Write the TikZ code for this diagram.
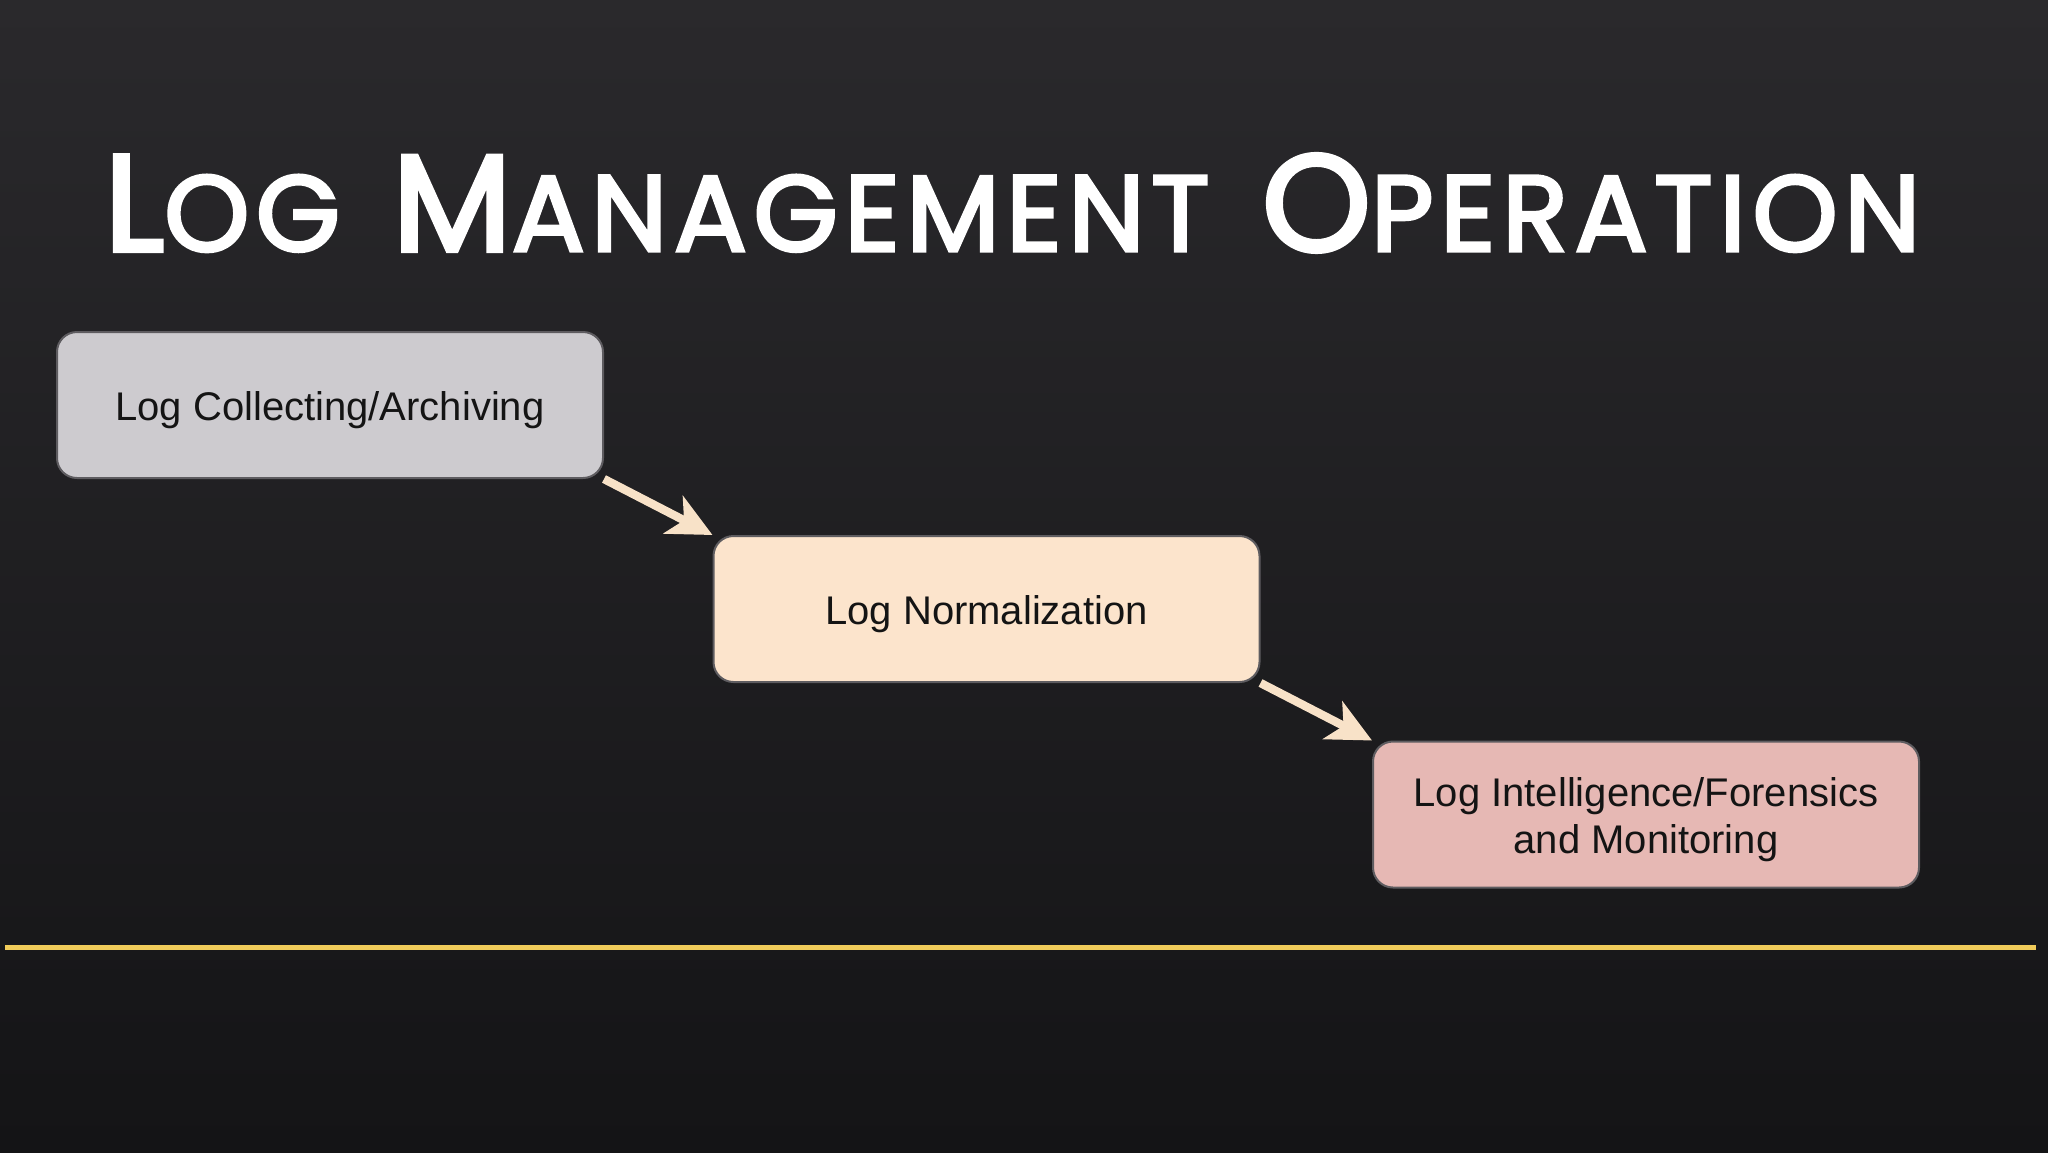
\documentclass[tikz,border=0pt]{standalone}
\usepackage{fontspec}
\usepackage{graphicx}
\usetikzlibrary{arrows.meta}
\setmainfont{Liberation Sans}
\newfontfamily\titlefont[LetterSpace=6,FakeBold=3]{Poppins}
\definecolor{bgtop}{HTML}{2A292C}
\definecolor{bgbot}{HTML}{141416}
\definecolor{boxgray}{HTML}{CDCBCF}
\definecolor{boxpeach}{HTML}{FCE4CC}
\definecolor{boxpink}{HTML}{E6B8B4}
\definecolor{boxedge}{HTML}{5E5C60}
\definecolor{arrowpeach}{HTML}{F8E2C8}
\definecolor{ruleyellow}{HTML}{F0CB5A}
\newcommand{\bigc}[1]{{\fontsize{69}{69}\selectfont #1}}
\newcommand{\smallc}[1]{{\fontsize{54}{54}\selectfont #1}}
\newcommand{\tgap}{\hspace{26pt}}
\newcommand{\boxstrut}{\rule{0pt}{20pt}}
\tikzset{
  stepbox/.style={draw=boxedge, line width=1pt, rounded corners=10pt,
    minimum width=273pt, minimum height=73pt, inner sep=0pt,
    align=center, text=black!92, font=\fontsize{20}{23.5}\selectfont},
  flowarrow/.style={draw=arrowpeach, line width=4.2pt,
    -{Stealth[length=22pt,width=21pt,inset=6pt]}},
}
\begin{document}
\begin{tikzpicture}[x=0.5pt,y=-0.5pt]
  \shade[top color=bgtop, bottom color=bgbot] (0,0) rectangle (2048,1152);
  \useasboundingbox (0,0) rectangle (2048,1152);
  \node[anchor=base west, inner sep=0pt, text=white] (title) at (104,251)
    {\resizebox{908pt}{48.5pt}{\titlefont\bigc{L}\smallc{OG}\tgap\bigc{M}\smallc{ANAGEMENT}\tgap\bigc{O}\smallc{PERATION}}};
  \node[stepbox, fill=boxgray] (b1) at (330,405) {\boxstrut Log Collecting/Archiving};
  \node[stepbox, fill=boxpeach] (b2) at (986.5,609) {\boxstrut Log Normalization};
  \node[stepbox, fill=boxpink] (b3) at (1646,814.5) {\boxstrut Log Intelligence/Forensics\\and Monitoring};
  \draw[flowarrow] (b1.south east) -- (b2.north west);
  \draw[flowarrow] (b2.south east) -- (b3.north west);
  \coordinate (ruleL) at (5,947);
  \coordinate (ruleR) at (2036,947);
  \draw[ruleyellow, line width=2.5pt] (ruleL) -- (ruleR);
\end{tikzpicture}
\end{document}
